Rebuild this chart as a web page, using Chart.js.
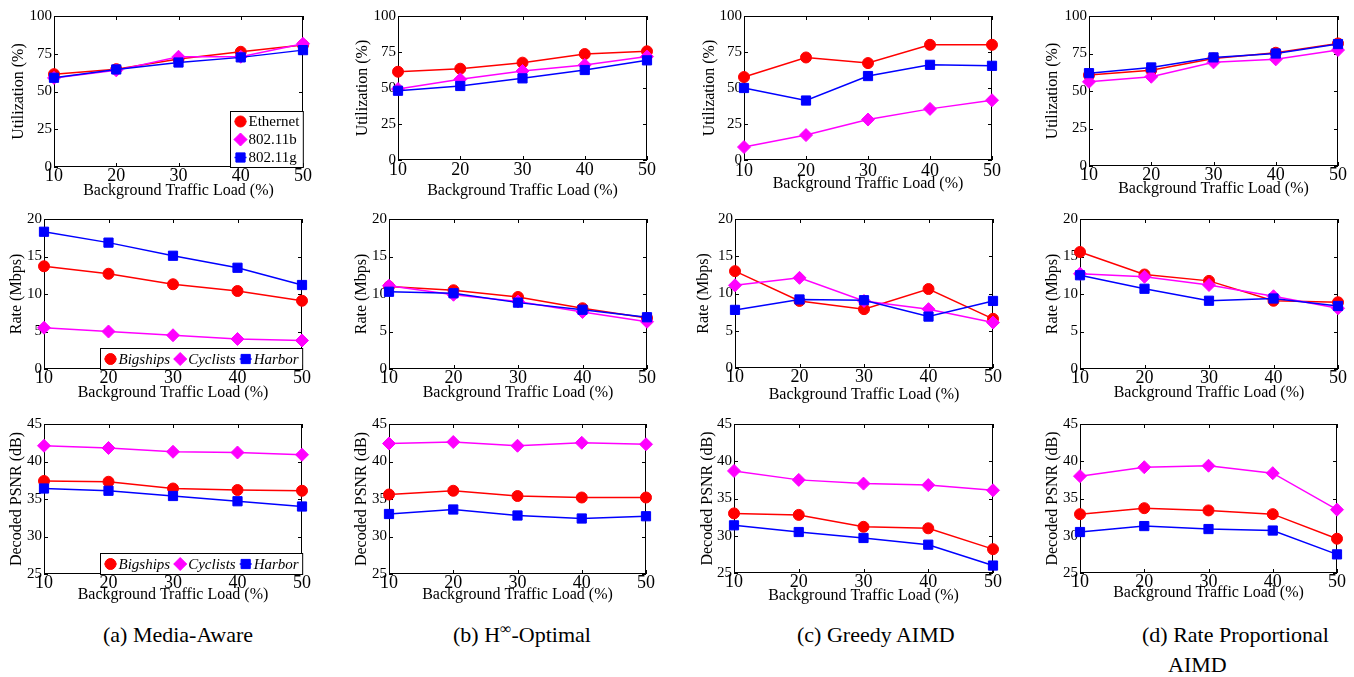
<!DOCTYPE html>
<html>
<head>
<meta charset="utf-8">
<script src="https://cdn.jsdelivr.net/npm/chart.js@4.4.0/dist/chart.umd.min.js"></script>
<style>
  body { margin: 0; background: #fff; width: 1354px; height: 677px; position: relative; overflow: hidden;
         font-family: "Liberation Serif", "Times New Roman", serif; color: #000; }
  canvas { position: absolute; }
  .cap { position: absolute; font-size: 22px; line-height: 24px; white-space: nowrap; }
</style>
</head>
<body>
<div class="cap" style="left:103px; top:623px;">(a) Media-Aware</div>
<div class="cap" style="left:453px; top:623px;">(b) H<sup style="font-size:16px; line-height:0;">∞</sup>-Optimal</div>
<div class="cap" style="left:797px; top:623px;">(c) Greedy AIMD</div>
<div class="cap" style="left:1142px; top:623px;">(d) Rate Proportional</div>
<div class="cap" style="left:1168px; top:653px;">AIMD</div>

<script>
// x values
const loads = [10, 20, 30, 40, 50];

// utilization (%) : Ethernet / 802.11b / 802.11g
const utilA_eth = [61.5, 64.8, 71.5, 76.3, 80.8];
const utilA_b   = [59.0, 64.0, 73.0, 73.0, 81.6];
const utilA_g   = [59.1, 64.6, 69.2, 72.6, 77.4];

const utilB_eth = [61.3, 63.4, 67.6, 73.6, 75.5];
const utilB_b   = [49.3, 56.0, 61.8, 66.0, 71.8];
const utilB_g   = [48.1, 51.4, 56.7, 62.5, 69.2];

const utilC_eth = [57.6, 71.2, 67.3, 80.0, 80.0];
const utilC_b   = [9.0, 17.3, 28.1, 35.5, 41.5];
const utilC_g   = [50.0, 41.3, 58.3, 66.1, 65.4];

const utilD_eth = [60.6, 63.9, 71.7, 75.5, 81.7];
const utilD_b   = [56.1, 59.5, 69.1, 71.1, 77.3];
const utilD_g   = [61.9, 65.7, 72.4, 75.0, 81.3];

// rate (Mbps) : Bigships / Cyclists / Harbor
const rateA_big = [13.7, 12.7, 11.3, 10.4, 9.1];
const rateA_cyc = [5.5, 5.0, 4.5, 4.0, 3.8];
const rateA_har = [18.3, 16.85, 15.1, 13.5, 11.2];

const rateB_big = [11.0, 10.5, 9.6, 8.1, 6.8];
const rateB_cyc = [11.1, 9.9, 9.0, 7.6, 6.3];
const rateB_har = [10.3, 10.1, 8.85, 7.9, 6.9];

const rateC_big = [13.0, 9.0, 7.9, 10.6, 6.6];
const rateC_cyc = [11.1, 12.1, 9.0, 7.9, 6.1];
const rateC_har = [7.8, 9.2, 9.1, 6.9, 9.0];

const rateD_big = [15.6, 12.6, 11.75, 9.1, 8.9];
const rateD_cyc = [12.7, 12.3, 11.2, 9.7, 8.1];
const rateD_har = [12.5, 10.7, 9.1, 9.4, 8.4];

// decoded PSNR (dB) : Bigships / Cyclists / Harbor
const psnrA_big = [37.4, 37.3, 36.4, 36.2, 36.1];
const psnrA_cyc = [42.1, 41.8, 41.3, 41.2, 40.9];
const psnrA_har = [36.4, 36.1, 35.4, 34.7, 34.0];

const psnrB_big = [35.6, 36.1, 35.4, 35.2, 35.2];
const psnrB_cyc = [42.4, 42.6, 42.1, 42.5, 42.3];
const psnrB_har = [33.0, 33.6, 32.8, 32.4, 32.7];

const psnrC_big = [33.0, 32.8, 31.2, 31.0, 28.2];
const psnrC_cyc = [38.7, 37.5, 37.0, 36.8, 36.1];
const psnrC_har = [31.4, 30.5, 29.7, 28.8, 26.0];

const psnrD_big = [32.9, 33.7, 33.4, 32.9, 29.6];
const psnrD_cyc = [38.0, 39.2, 39.4, 38.4, 33.5];
const psnrD_har = [30.5, 31.3, 30.9, 30.7, 27.5];

const utilNames = ['Ethernet', '802.11b', '802.11g'];
const videoNames = ['Bigships', 'Cyclists', 'Harbor'];

const kinds = {
  util: { min: 0,  max: 100, step: 25, title: 'Utilization (%)',   names: utilNames,  italic: false },
  rate: { min: 0,  max: 20,  step: 5,  title: 'Rate (Mbps)',       names: videoNames, italic: true },
  psnr: { min: 25, max: 45,  step: 5,  title: 'Decoded PSNR (dB)', names: videoNames, italic: true }
};

const colors = ['#ff0000', '#ff00ff', '#0000ff'];
const styles = ['circle', 'rectRot', 'rect'];
const radii = [5.5, 6.5, 6.5];
const FONT = '"Liberation Serif", "Times New Roman", serif';

// plot box = [left, top, right, bottom] of the axes in page pixels
const panels = [
  { kind: 'util', box: [54, 16, 303, 167],  L: 45, B: 33, xpad: 0, legend: 'v', series: [utilA_eth, utilA_b, utilA_g] },
  { kind: 'util', box: [398, 16, 647, 160], L: 45, B: 40, xpad: 1, series: [utilB_eth, utilB_b, utilB_g] },
  { kind: 'util', box: [744, 16, 992, 160], L: 44, B: 33, xpad: 2, series: [utilC_eth, utilC_b, utilC_g] },
  { kind: 'util', box: [1089, 16, 1338, 166], L: 46, B: 32, xpad: 0, series: [utilD_eth, utilD_b, utilD_g] },

  { kind: 'rate', box: [44, 219, 302, 369],   L: 37, B: 33, xpad: 0, legend: 'h', series: [rateA_big, rateA_cyc, rateA_har] },
  { kind: 'rate', box: [389, 219, 647, 369],  L: 37, B: 33, xpad: 0, series: [rateB_big, rateB_cyc, rateB_har] },
  { kind: 'rate', box: [735, 219, 993, 368],  L: 41, B: 36, xpad: 0, series: [rateC_big, rateC_cyc, rateC_har] },
  { kind: 'rate', box: [1080, 219, 1338, 369], L: 37, B: 33, xpad: 0, series: [rateD_big, rateD_cyc, rateD_har] },

  { kind: 'psnr', box: [44, 424, 302, 574],   L: 37, B: 30, xpad: 0, legend: 'h', series: [psnrA_big, psnrA_cyc, psnrA_har] },
  { kind: 'psnr', box: [389, 424, 646, 574],  L: 37, B: 30, xpad: 0, series: [psnrB_big, psnrB_cyc, psnrB_har] },
  { kind: 'psnr', box: [734, 424, 993, 573],  L: 36, B: 32, xpad: 0, series: [psnrC_big, psnrC_cyc, psnrC_har] },
  { kind: 'psnr', box: [1080, 424, 1337, 573], L: 37, B: 29, xpad: 0, series: [psnrD_big, psnrD_cyc, psnrD_har] }
];

function drawMarker(ctx, style, x, y, r, color) {
  ctx.fillStyle = color;
  ctx.strokeStyle = color;
  ctx.lineWidth = 1;
  ctx.beginPath();
  if (style === 'circle') {
    ctx.arc(x, y, r, 0, Math.PI * 2);
  } else if (style === 'rectRot') {
    ctx.moveTo(x - r, y); ctx.lineTo(x, y - r); ctx.lineTo(x + r, y); ctx.lineTo(x, y + r); ctx.closePath();
  } else {
    const s = r * Math.SQRT1_2;
    ctx.rect(x - s, y - s, 2 * s, 2 * s);
  }
  ctx.fill();
  ctx.stroke();
}

// MATLAB style box with inward ticks on all four sides
const frame = {
  id: 'frame',
  beforeDatasetsDraw(chart) {
    const { ctx, chartArea: a, scales: { x, y } } = chart;
    ctx.save();
    ctx.strokeStyle = '#000';
    ctx.lineWidth = 1;
    ctx.strokeRect(a.left + 0.5, a.top + 0.5, a.right - a.left - 1, a.bottom - a.top - 1);
    ctx.beginPath();
    x.ticks.forEach(t => {
      const px = Math.round(x.getPixelForValue(t.value)) + 0.5;
      ctx.moveTo(px, a.bottom); ctx.lineTo(px, a.bottom - 4);
      ctx.moveTo(px, a.top); ctx.lineTo(px, a.top + 4);
    });
    y.ticks.forEach(t => {
      const py = Math.round(y.getPixelForValue(t.value)) + 0.5;
      ctx.moveTo(a.left, py); ctx.lineTo(a.left + 4, py);
      ctx.moveTo(a.right, py); ctx.lineTo(a.right - 4, py);
    });
    ctx.stroke();
    ctx.restore();
  }
};

// boxed legend in the lower right corner of the axes
const boxLegend = {
  id: 'boxLegend',
  afterDatasetsDraw(chart, args, opts) {
    if (!opts.mode) return;
    const { ctx, chartArea: a } = chart;
    const sets = chart.data.datasets;
    ctx.save();
    ctx.font = (opts.italic ? 'italic ' : '') + '15px ' + FONT;
    const widths = sets.map(d => ctx.measureText(d.label).width);
    let bw, bh;
    if (opts.mode === 'h') {
      bw = widths.reduce((s, w) => s + 18 + w, 0) + 4;
      bh = 21;
    } else {
      bw = 18 + Math.max(...widths) + 4;
      bh = sets.length * 18 + 2;
    }
    const bx = Math.round(a.right - bw) + 0.5, by = Math.round(a.bottom - bh) + 0.5;
    ctx.fillStyle = '#fff';
    ctx.fillRect(bx, by, bw, bh);
    ctx.strokeStyle = '#000';
    ctx.lineWidth = 1;
    ctx.strokeRect(bx, by, bw, bh);
    ctx.textBaseline = 'middle';
    let cx = bx;
    sets.forEach((d, i) => {
      let mx, my;
      if (opts.mode === 'h') { mx = cx + 10; my = by + bh / 2; }
      else { mx = bx + 10; my = by + 10 + i * 18; }
      ctx.beginPath();
      ctx.strokeStyle = d.borderColor;
      ctx.lineWidth = 1.5;
      ctx.moveTo(mx - 6, my); ctx.lineTo(mx + 6, my);
      ctx.stroke();
      drawMarker(ctx, d.pointStyle, mx, my, d.pointRadius, d.borderColor);
      ctx.fillStyle = '#000';
      ctx.fillText(d.label, mx + 8, my + 1);
      cx = mx + 8 + widths[i];
    });
    ctx.restore();
  }
};

function makeChart(p) {
  const [pl, pt, pr, pb] = p.box;
  const padTop = 12, padRight = 14;
  const left = pl - p.L, top = pt - padTop;
  const w = pr + padRight - left, h = pb + p.B - top;
  const cv = document.createElement('canvas');
  cv.width = w; cv.height = h;
  cv.style.left = left + 'px'; cv.style.top = top + 'px';
  cv.style.width = w + 'px'; cv.style.height = h + 'px';
  document.body.appendChild(cv);
  const k = kinds[p.kind];
  const xTickFont = { family: FONT, size: 18, lineHeight: 1 };
  const yTickFont = { family: FONT, size: 15 };
  const titleFont = { family: FONT, size: 16 };

  new Chart(cv, {
    type: 'line',
    data: {
      datasets: p.series.map((s, i) => ({
        label: k.names[i],
        data: loads.map((x, j) => ({ x: x, y: s[j] })),
        borderColor: colors[i],
        backgroundColor: colors[i],
        pointStyle: styles[i],
        pointRadius: radii[i],
        pointBorderWidth: 1,
        borderWidth: 1.5,
        tension: 0,
        clip: false,
        order: 3 - i
      }))
    },
    options: {
      responsive: false,
      animation: false,
      devicePixelRatio: 1,
      layout: { padding: { top: padTop, right: padRight, left: 0, bottom: 0 } },
      plugins: {
        legend: { display: false },
        tooltip: { enabled: false },
        boxLegend: { mode: p.legend || null, italic: k.italic }
      },
      scales: {
        x: {
          type: 'linear', min: 10, max: 50,
          grid: { display: false, drawTicks: false, tickLength: 0 }, border: { display: false },
          ticks: { stepSize: 10, padding: p.xpad, color: '#000', font: xTickFont, maxRotation: 0 },
          title: { display: true, text: 'Background Traffic Load (%)', color: '#000', font: titleFont, padding: { top: 0, bottom: 0 } },
          afterFit(s) { s.height = p.B; s.paddingLeft = 0; s.paddingRight = 0; }
        },
        y: {
          min: k.min, max: k.max,
          grid: { display: false, drawTicks: false, tickLength: 0 }, border: { display: false },
          ticks: { stepSize: k.step, padding: 2, color: '#000', font: yTickFont },
          title: { display: true, text: k.title, color: '#000', font: titleFont, padding: { top: 0, bottom: 0 } },
          afterFit(s) { s.width = p.L; s.paddingTop = 0; s.paddingBottom = 0; }
        }
      }
    },
    plugins: [frame, boxLegend]
  });
}

panels.forEach(makeChart);
</script>
</body>
</html>
